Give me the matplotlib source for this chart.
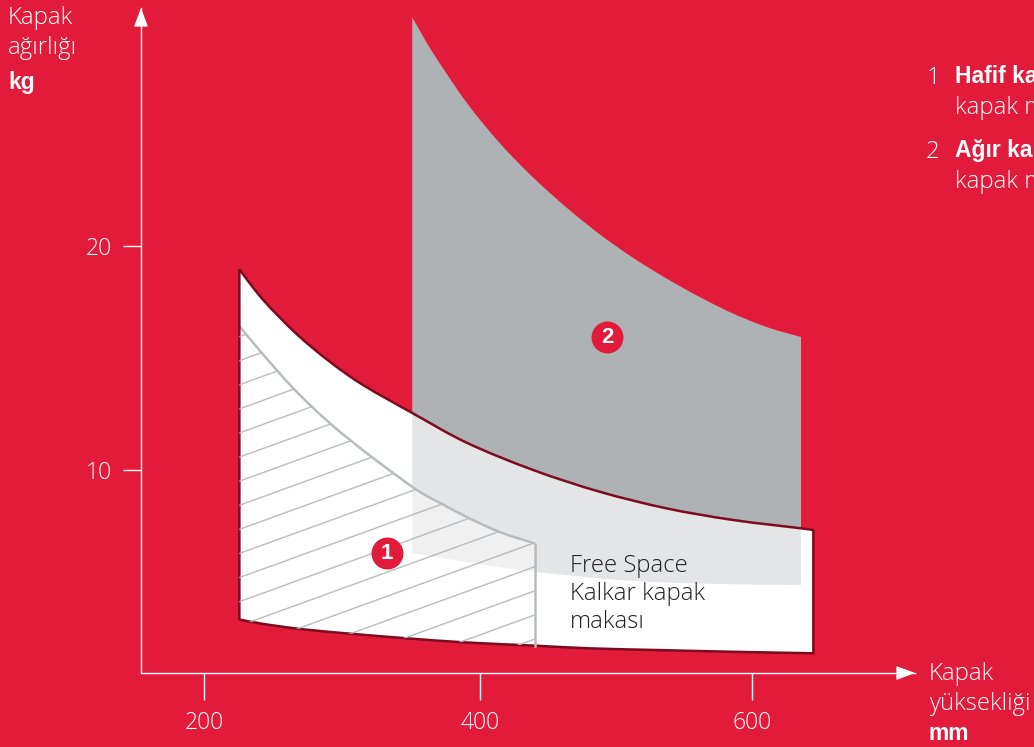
"""Kapak agirligi / kapak yuksekligi range chart for the Free Space lift."""

import numpy as np
import matplotlib

matplotlib.use("Agg")
import matplotlib.pyplot as plt
from matplotlib.patches import PathPatch
from matplotlib.path import Path

# upper limit of the white area
upper_x = np.array([225.8, 243.3, 267.7, 292.0, 316.3, 352.0, 391.8, 440.4, 489.0, 537.7, 586.4, 635.8, 644.8])
upper_y = np.array([18.96, 17.59, 16.07, 14.83, 13.79, 12.55, 11.22, 10.0, 9.03, 8.29, 7.77, 7.40, 7.32])

# lower limit of the white area
lower_x = np.array([225.8, 243.3, 272.5, 311.5, 348.0, 389.4, 441.6, 481.8, 535.0, 583.9, 644.8])
lower_y = np.array([3.33, 3.13, 2.89, 2.67, 2.49, 2.31, 2.16, 2.04, 1.96, 1.89, 1.82])

# upper limit of the hatched area
hatched_x = np.array([225.8, 242.3, 266.4, 293.4, 323.4, 355.5, 374.6, 394.2, 416.0, 441.6])
hatched_y = np.array([16.43, 15.22, 13.57, 12.01, 10.54, 9.11, 8.46, 7.83, 7.23, 6.72])

# upper limit of the grey area
grey_x = np.array([352.0, 367.2, 392.0, 416.0, 440.1, 465.0, 489.0, 513.1, 538.0, 562.0, 586.1, 611.0, 635.8])
grey_y = np.array([30.21, 28.62, 26.38, 24.59, 23.07, 21.70, 20.52, 19.48, 18.54, 17.72, 16.99, 16.38, 15.94])

# lower limit of the pale part of the grey area
pale_x = np.array([352.0, 401.5, 443.0, 503.6, 562.0, 635.8])
pale_y = np.array([6.29, 5.80, 5.45, 5.09, 4.93, 4.87])

x_ticks = [200, 401.5, 600]
x_tick_labels = ["200", "400", "600"]
y_ticks = [10, 20]
y_tick_labels = ["10", "20"]

RED = "#e21b3a"
DARK_RED = "#7d0a1f"
GREY = "#aeb2b5"
PALE = "#e4e5e7"
HATCH = "#b9bcbe"
WHITE = "#ffffff"
LIGHT_FONT = "Open Sans"
BOLD_FONT = "Liberation Sans"

W, H = 1034, 747


def smooth_chain(x, y):
    """Turn read points into Bezier segments so the curve has no corners."""
    pts = np.column_stack([x, y])
    n = len(pts)
    verts = [pts[0]]
    for i in range(n - 1):
        p0, p1, p2, p3 = pts[max(i - 1, 0)], pts[i], pts[i + 1], pts[min(i + 2, n - 1)]
        verts += [p1 + (p2 - p0) / 6, p2 - (p3 - p1) / 6, p2]
    return verts


def region(*chains):
    """Closed path through several chains, joined by straight lines."""
    verts, codes = [], []
    for k, (x, y) in enumerate(chains):
        chain = smooth_chain(x, y)
        verts += chain
        codes += [Path.MOVETO if k == 0 else Path.LINETO] + [Path.CURVE4] * (len(chain) - 1)
    verts.append(verts[0])
    codes.append(Path.CLOSEPOLY)
    return Path(verts, codes)


def fig_text(fig, px, py, s, color=WHITE, bold=False):
    if bold:
        fig.text(px / W, 1 - py / H, s, color=color, fontweight="bold", fontsize=16.5,
                 family=BOLD_FONT, ha="left", va="center")
    else:
        fig.text(px / W, 1 - (py + 1.5) / H, s, color=color, fontweight="light", fontsize=17.2,
                 family=LIGHT_FONT, ha="left", va="center")


fig = plt.figure(figsize=(W / 100, H / 100), dpi=100, facecolor=RED)
ax = fig.add_axes([141 / W, 74 / H, 774 / W, 665 / H], facecolor="none")
ax.set_xlim(154.0, 719.0)
ax.set_ylim(0.94, 30.63)

# areas
in_grey = (upper_x >= grey_x[0]) & (upper_x <= grey_x[-1])
edge = (upper_x[in_grey], upper_y[in_grey])
edge_back = (edge[0][::-1], edge[1][::-1])
lower_back = (lower_x[::-1], lower_y[::-1])

white_path = region((upper_x, upper_y), lower_back)
ax.add_patch(PathPatch(white_path, facecolor=WHITE, lw=0))
ax.add_patch(PathPatch(region(edge, (pale_x[::-1], pale_y[::-1])), facecolor=PALE, lw=0))
ax.add_patch(PathPatch(region((grey_x, grey_y), edge_back), facecolor=GREY, lw=0))

# hatched area
in_hatch = lower_x <= hatched_x[-1]
hatch_path = region((hatched_x, hatched_y), (lower_x[in_hatch][::-1], lower_y[in_hatch][::-1]))
hatch_patch = PathPatch(hatch_path, facecolor=WHITE, alpha=0.45, lw=0)
ax.add_patch(hatch_patch)

hatch_ends = np.array([225.8, 441.6])
for start in np.arange(15.96, -3.5, -1.076):
    line, = ax.plot(hatch_ends, start + 0.0222 * (hatch_ends - 225.8), color=HATCH, lw=1.0)
    line.set_clip_path(hatch_patch)

ax.add_patch(PathPatch(Path(smooth_chain(hatched_x, hatched_y),
                            [Path.MOVETO] + [Path.CURVE4] * (3 * (len(hatched_x) - 1))),
                       facecolor="none", edgecolor=HATCH, lw=1.8))
ax.plot([hatched_x[-1], lower_x[in_hatch][-1]], [hatched_y[-1], lower_y[in_hatch][-1]], color=HATCH, lw=1.8)

# outline of the white area
ax.add_patch(PathPatch(white_path, facecolor="none", edgecolor=DARK_RED, lw=1.8, joinstyle="miter"))

# numbered badges
for bx, by, label in [(333.6, 6.29, "1"), (494.2, 15.94, "2")]:
    ax.plot(bx, by, "o", ms=23, color=RED, mec="none")
    ax.text(bx, by - 0.03, label, color=WHITE, fontweight="bold", fontsize=16, family=BOLD_FONT,
            ha="center", va="center")

# axes
for side in ("top", "right"):
    ax.spines[side].set_visible(False)
for side in ("left", "bottom"):
    ax.spines[side].set_color(WHITE)
    ax.spines[side].set_linewidth(1.0)
ax.set_xticks(x_ticks, x_tick_labels)
ax.set_yticks(y_ticks, y_tick_labels)
ax.tick_params(axis="x", direction="out", length=19.5, width=1.0, color=WHITE, pad=8,
               labelcolor=WHITE, labelsize=16.5)
ax.tick_params(axis="y", direction="out", length=13, width=1.0, color=WHITE, pad=8,
               labelcolor=WHITE, labelsize=16.5)
for label in ax.get_xticklabels() + ax.get_yticklabels():
    label.set_family(LIGHT_FONT)
    label.set_fontweight("light")

head = dict(arrowstyle="-|>,head_length=1.15,head_width=0.43", color=WHITE, lw=1.0,
            mutation_scale=10, shrinkA=0, shrinkB=0)
ax.annotate("", xy=(1, 0), xytext=(0.985, 0), xycoords="axes fraction", arrowprops=head)
ax.annotate("", xy=(0, 1), xytext=(0, 0.98), xycoords="axes fraction", arrowprops=head)

# axis titles
fig_text(fig, 8, 17, "Kapak")
fig_text(fig, 8, 46, "ağırlığı")
fig_text(fig, 8, 82, "kg", bold=True)
fig_text(fig, 929, 672, "Kapak")
fig_text(fig, 929, 702, "yüksekliği")
fig_text(fig, 929, 733, "mm", bold=True)

# key
fig_text(fig, 927, 77, "1")
fig_text(fig, 955, 77, "Hafif kapak", bold=True)
fig_text(fig, 955, 106, "kapak makası")
fig_text(fig, 926, 151, "2")
fig_text(fig, 955, 151, "Ağır kapak", bold=True)
fig_text(fig, 955, 180, "kapak makası")

# label on the chart
fig_text(fig, 570, 564, "Free Space", color="#231f20")
fig_text(fig, 570, 593, "Kalkar kapak", color="#231f20")
fig_text(fig, 570, 621, "makası", color="#231f20")

fig.savefig("out.png", dpi=100, facecolor=RED)
